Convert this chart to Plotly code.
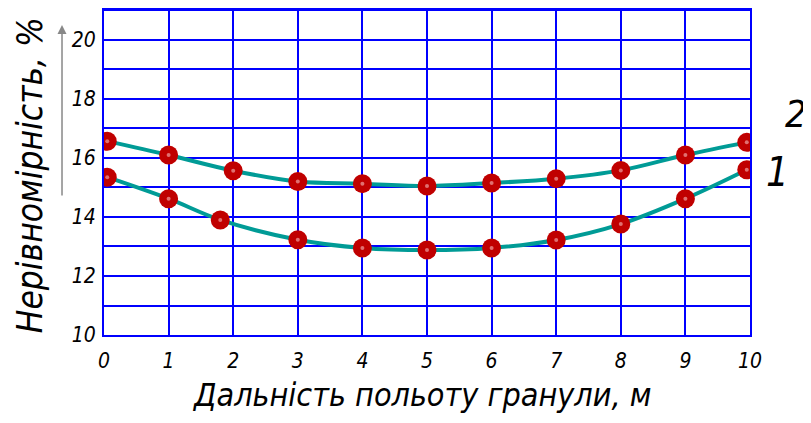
import plotly.graph_objects as go

x_upper = [0.05, 1, 2, 3, 4, 5, 6, 7, 8, 9, 9.95]
y_upper = [16.57, 16.1, 15.57, 15.2, 15.13, 15.05, 15.15, 15.3, 15.58, 16.1, 16.53]
x_lower = [0.05, 1, 1.8, 3, 4, 5, 6, 7, 8, 9, 9.95]
y_lower = [15.35, 14.62, 13.9, 13.23, 12.95, 12.88, 12.95, 13.22, 13.76, 14.62, 15.6]

x_ticks = list(range(0, 11))
y_ticks = [10, 12, 14, 16, 18, 20]

FONT = "DejaVu Sans Condensed, sans-serif"
LINE = "#009b96"
MARK = "#c00000"
GRID = "#0000ff"

fig = go.Figure()
for xs, ys in [(x_upper, y_upper), (x_lower, y_lower)]:
    fig.add_trace(go.Scatter(x=xs, y=ys, mode="lines", line=dict(color=LINE, width=4, shape="spline", smoothing=1.0),
                             hoverinfo="skip", showlegend=False))
for xs, ys in [(x_upper, y_upper), (x_lower, y_lower)]:
    fig.add_trace(go.Scatter(x=xs, y=ys, mode="markers", marker=dict(color=MARK, size=19, line=dict(width=0)),
                             showlegend=False))
    fig.add_trace(go.Scatter(x=xs, y=ys, mode="markers", marker=dict(color="#e07070", size=4, line=dict(width=0)),
                             hoverinfo="skip", showlegend=False))

# the page body has an 8px margin; margins compensate so the plot area lands at 104..750 x 9..335
fig.update_layout(
    width=811, height=423,
    margin=dict(l=96, r=69, t=1, b=96),
    paper_bgcolor="white", plot_bgcolor="white",
    font=dict(family=FONT, color="black"),
    xaxis=dict(range=[0, 10], tickvals=x_ticks, showgrid=True, gridcolor=GRID, gridwidth=2,
               showline=True, linecolor=GRID, linewidth=2, mirror=True, zeroline=False,
               ticks="", ticklabelstandoff=6, automargin=False,
               tickfont=dict(size=21, family=FONT, style="italic")),
    yaxis=dict(range=[10, 21.05], tickvals=y_ticks, showgrid=True, gridcolor=GRID, gridwidth=2,
               minor=dict(dtick=1, showgrid=True, gridcolor=GRID, gridwidth=2),
               showline=True, linecolor=GRID, linewidth=2, mirror=True, zeroline=False,
               ticks="", ticklabelstandoff=2, automargin=False,
               tickfont=dict(size=21, family=FONT, style="italic")),
)

fig.add_annotation(xref="paper", yref="paper", x=0.491, y=-0.184, xanchor="center", yanchor="middle",
                   showarrow=False, text="Дальність польоту гранули, м",
                   font=dict(size=32, family=FONT, style="italic"))
fig.add_annotation(xref="paper", yref="paper", x=-0.1146, y=0.49, xanchor="center", yanchor="middle",
                   showarrow=False, textangle=-90, text="Нерівномірність, %",
                   font=dict(size=35, family=FONT, style="italic"))
fig.add_annotation(xref="paper", yref="paper", x=1.0705, y=0.678, xanchor="center", yanchor="middle",
                   showarrow=False, text="2", font=dict(size=38, family=FONT, style="italic"))
fig.add_annotation(xref="paper", yref="paper", x=1.043, y=0.5, xanchor="center", yanchor="middle",
                   showarrow=False, text="1", font=dict(size=40, family=FONT, style="italic"))
fig.add_annotation(xref="paper", yref="paper", x=-0.065, y=0.951, ax=0, ay=172, text="",
                   showarrow=True, arrowhead=2, arrowsize=1.2, arrowwidth=1.5, arrowcolor="#888888")

fig.write_html("out.html")
